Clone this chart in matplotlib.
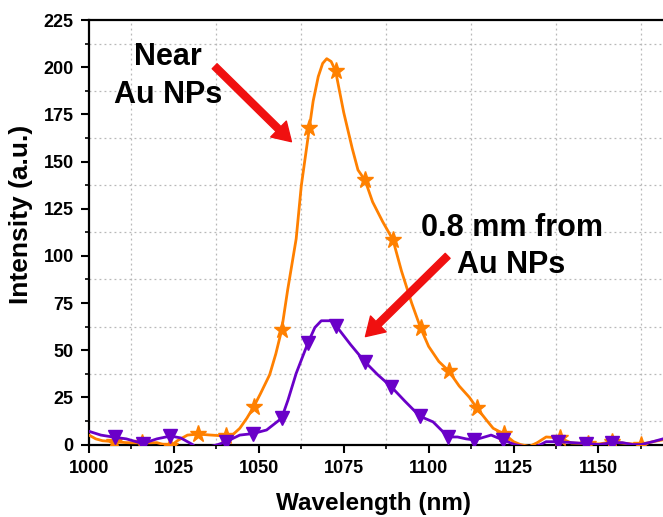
import matplotlib
matplotlib.use("Agg")
import matplotlib.pyplot as plt
from matplotlib.ticker import MultipleLocator

plt.rcParams['font.family'] = ['Liberation Sans', 'DejaVu Sans']
plt.rcParams['font.weight'] = 'bold'

# Near Au NPs (orange) line
near_x = [1000, 1002, 1004, 1007.5, 1011, 1015.7, 1020, 1023.9, 1026, 1029, 1032.1, 1036,
          1040.3, 1042.4, 1044.4, 1046.5, 1048.5, 1050.5, 1053.2, 1055, 1056.7, 1058.5,
          1061, 1062.5, 1064.9, 1066, 1067.5, 1068.8, 1070, 1071.3, 1072.6, 1075, 1077.5,
          1079.2, 1081.3, 1083.5, 1086.5, 1089.5, 1092, 1095, 1097.7, 1100, 1103, 1105.9,
          1109, 1112, 1114.1, 1117, 1119, 1122.3, 1125, 1127, 1129.7, 1132, 1134.6, 1138.7,
          1142, 1146.9, 1150, 1154, 1158, 1162.6, 1166, 1169]
near_y = [5, 3, 2, 1.5, 1, 0.8, 1, -1, 2, 5, 5.5, 5,
          4.5, 5.3, 8.6, 14, 20, 27, 37, 48, 60.5, 82,
          109, 137, 168, 182, 195, 202, 204.5, 203, 198, 176, 157,
          145.5, 140, 128.6, 118, 108.5, 92, 75, 61.5, 52, 44, 39,
          31, 25, 19.6, 13, 8.6, 5.5, 1.5, 0, -1, 1, 4, 3.5,
          0.8, 0.5, 0.3, 1.3, 0.6, 0, 1.5, 2.5]
near_mx = [1007.5, 1015.7, 1023.9, 1032.1, 1040.3, 1048.5, 1056.7, 1064.9, 1072.6, 1081.3,
           1089.5, 1097.7, 1105.9, 1114.1, 1122.3, 1138.7, 1146.9, 1154, 1162.6]
near_my = [1.5, 0.8, -1, 5.5, 4.5, 20, 60.5, 168, 198, 140,
           108.5, 61.5, 39, 19.6, 5.5, 3.5, 0.5, 1.3, 0]

# 0.8 mm from Au NPs (purple) line
far_x = [1000, 1003.5, 1007.6, 1011, 1015.8, 1020, 1024, 1027, 1030.5, 1032.2, 1036, 1038,
         1040.4, 1044.4, 1048.3, 1052.3, 1056.7, 1058.6, 1061, 1064.5, 1066.5, 1068.4,
         1071.9, 1072.8, 1077, 1081.2, 1085, 1089, 1093, 1097.4, 1101.3, 1104.2, 1105.7,
         1108.5, 1111, 1113.5, 1118.4, 1121.9, 1125.3, 1128, 1130.1, 1133, 1134.6, 1138,
         1142.4, 1146.3, 1150.3, 1154, 1157, 1160, 1162.6, 1166, 1169]
far_y = [7, 5, 3.8, 3, 0.5, 3, 4.5, 3.5, 0, -3, -1, 0,
         1.5, 5, 5.8, 7.7, 13.9, 23.6, 37.7, 54, 62, 65.6,
         65.6, 62.8, 53, 43.9, 37, 30.6, 23, 15, 12, 6.8, 4,
         4, 3, 2.4, 5, 2.4, 0, -1, -2, 0, 1.5, 1.5,
         1, 0.5, 0, 1, 1, 0, 0, 1.5, 3]
far_mx = [1007.6, 1015.8, 1024, 1040.4, 1048.3, 1056.7, 1064.5, 1072.8, 1081.2, 1089,
          1097.4, 1105.7, 1113.5, 1121.9, 1138, 1146.3, 1154]
far_my = [3.8, 0.5, 4.5, 1.5, 5.8, 13.9, 54, 62.8, 43.9, 30.6,
          15, 4, 2.4, 2.4, 1.5, 0.5, 1]

orange = '#FF8000'
purple = '#6A00C8'

fig = plt.figure(figsize=(6.63, 5.17), dpi=100)
ax = fig.add_axes([0.1342, 0.1402, 1 - 0.1342, 0.9613 - 0.1402])

ax.plot(near_x, near_y, color=orange, lw=2.0, zorder=3)
ax.plot(near_mx, near_my, ls='none', marker='*', ms=12.5, color=orange, zorder=4)
ax.plot(far_x, far_y, color=purple, lw=2.0, zorder=5)
ax.plot(far_mx, far_my, ls='none', marker='v', ms=10, color=purple, zorder=6)

ax.set_xlim(1000, 1169)
ax.set_ylim(0, 225)
ax.xaxis.set_major_locator(MultipleLocator(25))
ax.xaxis.set_minor_locator(MultipleLocator(12.5))
ax.yaxis.set_major_locator(MultipleLocator(25))
ax.yaxis.set_minor_locator(MultipleLocator(12.5))
ax.grid(which='minor', linestyle=(0, (1.5, 2.5)), color='#b8b8b8', lw=0.9)
ax.grid(which='major', visible=False)
ax.set_axisbelow(True)

ax.tick_params(which='major', direction='out', length=6, width=1.5, labelsize=13, pad=5)
ax.tick_params(which='minor', direction='out', length=3, width=1.2)
ax.tick_params(top=False, right=False, which='both')
for lab in ax.get_xticklabels() + ax.get_yticklabels():
    lab.set_fontweight('bold')

for s in ['left', 'bottom', 'top']:
    ax.spines[s].set_linewidth(1.6)
ax.spines['right'].set_visible(False)

ax.set_xlabel('Wavelength (nm)', fontsize=17.5, fontweight='bold')
ax.set_ylabel('Intensity (a.u.)', fontsize=19, fontweight='bold')
ax.xaxis.set_label_coords(0.496, -0.112)
ax.yaxis.set_label_coords(-0.097, 0.541)

ax.text(1023.2, 201.2, 'Near', ha='center', va='baseline', fontsize=22, fontweight='bold')
ax.text(1023.2, 181.1, 'Au NPs', ha='center', va='baseline', fontsize=22, fontweight='bold')
ax.text(1124.4, 110.6, '0.8 mm from', ha='center', va='baseline', fontsize=22, fontweight='bold')
ax.text(1124.4, 91.0, 'Au NPs', ha='center', va='baseline', fontsize=22, fontweight='bold')

arrow_kw = dict(facecolor='#F01010', edgecolor='#F01010', width=5, headwidth=16, headlength=13)
ax.annotate('', xy=(1059.6, 160.5), xytext=(1037, 200.5), arrowprops=arrow_kw)
ax.annotate('', xy=(1081.4, 57.2), xytext=(1105.6, 100), arrowprops=arrow_kw)

fig.savefig('out.png', dpi=100)
